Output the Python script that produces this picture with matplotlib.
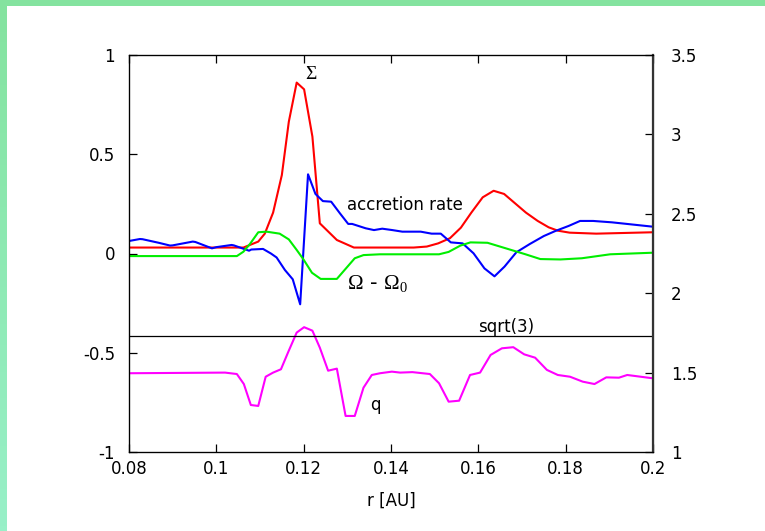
import matplotlib
matplotlib.use("Agg")
import matplotlib.pyplot as plt
from matplotlib.patches import Rectangle
from matplotlib.colors import LinearSegmentedColormap
import numpy as np

plt.rcParams['font.family'] = ['DejaVu Sans']
plt.rcParams['mathtext.fontset'] = 'custom'
plt.rcParams['mathtext.rm'] = 'Liberation Serif'
plt.rcParams['mathtext.it'] = 'Liberation Serif:italic'

# Surface density Sigma (left axis)
r_sigma = [0.080, 0.1062, 0.1096, 0.1111, 0.1130, 0.1150, 0.1166, 0.1184, 0.1201,
           0.1220, 0.1237, 0.1276, 0.1315, 0.1452, 0.1482, 0.1508, 0.1535, 0.1560,
           0.1584, 0.1610, 0.1635, 0.1659, 0.1684, 0.1709, 0.1736, 0.1761, 0.1782,
           0.1809, 0.1870, 0.2]
sigma = [0.03, 0.03, 0.06, 0.10, 0.206, 0.395, 0.664, 0.861, 0.827,
         0.589, 0.152, 0.068, 0.03, 0.03, 0.035, 0.051, 0.077, 0.13,
         0.206, 0.283, 0.316, 0.30, 0.253, 0.206, 0.164, 0.132, 0.115,
         0.105, 0.10, 0.107]

# Accretion rate (left axis)
r_acc = [0.080, 0.0825, 0.0831, 0.0868, 0.0894, 0.0900, 0.0946, 0.0952, 0.0990,
         0.1000, 0.1035, 0.1040, 0.1075, 0.1080, 0.1107, 0.1125, 0.1138, 0.1157,
         0.1175, 0.1192, 0.1210, 0.1227, 0.1244, 0.1263, 0.1283, 0.1302, 0.1311,
         0.1342, 0.1361, 0.1380, 0.1403, 0.1426, 0.1468, 0.1493, 0.1514,
         0.1537, 0.1564, 0.1589, 0.1614, 0.1637, 0.1660, 0.1687, 0.1718, 0.1750,
         0.1776, 0.1807, 0.1833, 0.1863, 0.1906, 0.2]
acc = [0.063, 0.073, 0.072, 0.054, 0.04, 0.041, 0.06, 0.058, 0.026,
       0.032, 0.043, 0.041, 0.014, 0.02, 0.023, 0.0, -0.02, -0.083,
       -0.13, -0.256, 0.399, 0.30, 0.264, 0.261, 0.2025, 0.149, 0.149,
       0.127, 0.118, 0.125, 0.118, 0.11, 0.11, 0.10, 0.10,
       0.056, 0.051, 0.001, -0.075, -0.115, -0.066, 0.006, 0.048, 0.088,
       0.113, 0.139, 0.164, 0.164, 0.157, 0.135]

# Angular velocity deviation Omega - Omega_0 (left axis)
r_om = [0.080, 0.1047, 0.1062, 0.1077, 0.1096, 0.1115, 0.1145, 0.1166, 0.1184,
        0.1199, 0.1219, 0.1239, 0.1276, 0.1317, 0.1337, 0.1375, 0.1510, 0.1532,
        0.1559, 0.1582, 0.1621, 0.1663, 0.1708, 0.1742, 0.1788, 0.1837, 0.1902, 0.2]
om = [-0.013, -0.013, 0.009, 0.048, 0.107, 0.11, 0.10, 0.071, 0.018,
      -0.028, -0.097, -0.128, -0.128, -0.024, -0.008, -0.004, -0.004, 0.008,
      0.04, 0.056, 0.054, 0.026, -0.004, -0.028, -0.03, -0.024, -0.004, 0.004]

# Toomre-type parameter q (right axis)
r_q = [0.080, 0.1020, 0.1047, 0.1063, 0.1079, 0.1096, 0.1113, 0.1130, 0.1148,
       0.1165, 0.1184, 0.1201, 0.1220, 0.1237, 0.1256, 0.1276, 0.1296, 0.1317,
       0.1337, 0.1356, 0.1375, 0.1402, 0.1421, 0.1449, 0.1489, 0.1510, 0.1532,
       0.1556, 0.1581, 0.1604, 0.1628, 0.1654, 0.1680, 0.1705, 0.1730, 0.1757,
       0.1782, 0.1810, 0.1839, 0.1866, 0.1893, 0.1922, 0.1941, 0.2]
q = [1.496, 1.50, 1.491, 1.428, 1.296, 1.29, 1.474, 1.50, 1.521,
     1.632, 1.752, 1.786, 1.764, 1.657, 1.512, 1.525, 1.227, 1.227,
     1.405, 1.485, 1.496, 1.506, 1.50, 1.503, 1.491, 1.433, 1.317,
     1.323, 1.485, 1.50, 1.611, 1.653, 1.66, 1.615, 1.594, 1.517,
     1.485, 1.474, 1.443, 1.428, 1.47, 1.468, 1.485, 1.464]

q_crit = np.sqrt(3.0)

fig = plt.figure(figsize=(7.65, 5.31), dpi=100)

# Green frame strips along top and left edges
bg = fig.add_axes([0, 0, 1, 1], zorder=-10)
bg.axis('off')
bg.add_patch(Rectangle((0, 0), 765, 6, color='#84e39f', lw=0))
cmap = LinearSegmentedColormap.from_list('edge', ['#84e39f', '#98f0c8'])
bg.imshow(np.linspace(0, 1, 100).reshape(-1, 1), cmap=cmap, aspect='auto',
          extent=(0, 7, 531, 0))
bg.set_xlim(0, 765)
bg.set_ylim(531, 0)

ax = fig.add_axes([129 / 765, 1 - 452 / 531, (653 - 129) / 765, (452 - 55) / 531])
ax2 = ax.twinx()

lw = 1.5
ax.plot(r_sigma, sigma, color='#ff0000', lw=lw)
ax.plot(r_acc, acc, color='#0000ff', lw=lw)
ax.plot(r_om, om, color='#00ee00', lw=lw)
ax2.plot(r_q, q, color='#ff00ff', lw=lw)
ax2.axhline(q_crit, color='black', lw=0.9)

ax.set_xlim(0.08, 0.2)
ax.set_ylim(-1, 1)
ax2.set_ylim(1, 3.5)

ax.set_xticks([0.08, 0.1, 0.12, 0.14, 0.16, 0.18, 0.2])
ax.set_xticklabels(['0.08', '0.1', '0.12', '0.14', '0.16', '0.18', '0.2'])
ax.set_yticks([-1, -0.5, 0, 0.5, 1])
ax.set_yticklabels(['-1', '-0.5', '0', '0.5', '1'])
ax2.set_yticks([1, 1.5, 2, 2.5, 3, 3.5])
ax2.set_yticklabels(['1', '1.5', '2', '2.5', '3', '3.5'])

fs = 12
ax.tick_params(axis='x', direction='in', top=True, length=6, width=0.9,
               labelsize=fs, pad=6)
ax.tick_params(axis='y', direction='in', length=6, width=0.9, labelsize=fs, pad=10)
ax2.tick_params(axis='y', direction='in', length=6, width=0.9, labelsize=fs, pad=13)
for sp in ax2.spines.values():
    sp.set_linewidth(0.9)
ax2.spines['right'].set_linewidth(1.6)
ax2.spines['right'].set_color('#333333')

ax.set_xlabel('r [AU]', fontsize=fs, labelpad=10)

ax.text(0.1203, 0.905, r'$\Sigma$', fontsize=fs + 2, ha='left', va='center')
ax.text(0.1300, 0.244, 'accretion rate', fontsize=fs, ha='left', va='center')
ax.text(0.1300, -0.150, r'$\Omega$ - $\Omega_0$', fontsize=fs + 3, ha='left', va='center')
ax.text(0.1352, -0.765, 'q', fontsize=fs, ha='left', va='center')
ax.text(0.1663, -0.37, 'sqrt(3)', fontsize=fs, ha='center', va='center')

fig.savefig('out.png', dpi=100)
